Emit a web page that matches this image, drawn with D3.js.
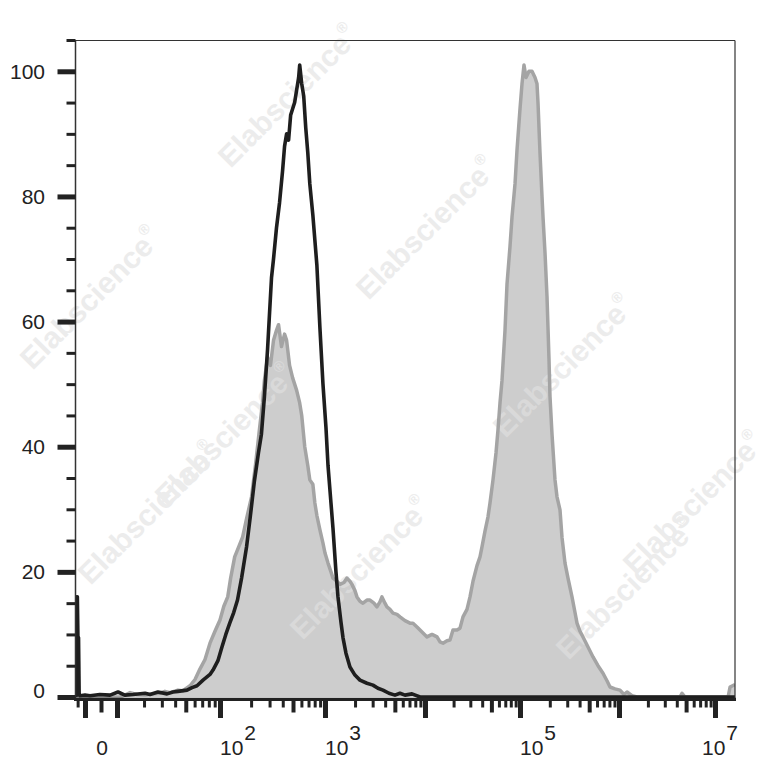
<!DOCTYPE html>
<html><head><meta charset="utf-8">
<script src="https://cdn.jsdelivr.net/npm/d3@7"></script>
<style>html,body{margin:0;padding:0;background:#fff;} svg{display:block;}</style>
</head><body>
<svg id="chart" width="779" height="780"></svg>
<script>
// ---------- data (fluorescence intensity, % of max) ----------
const controlX = [-23, -22, -20.5, -19.5, -18.5, -17.5, -16.2, -10, -5.6, -0.4, 4.3, 10.3, 12.4, 15.3, 20.5, 23, 27.5, 33.6, 38.2, 42.5, 51.3, 56.9, 63, 71.2, 81.9, 87, 96, 104.5, 114, 124.5, 136, 148, 162, 181, 197, 215, 235, 251, 268, 287, 299, 313, 327, 349, 373, 398, 416, 435, 454, 475, 496, 518, 541, 565, 578, 604, 631, 659, 689, 720, 769, 839, 896, 957, 1023, 1072, 1148, 1202, 1288, 1349, 1445, 1514, 1622, 1778, 1995, 2239, 2630, 3020, 3388, 3802, 4365, 5012, 5623, 6310, 7413, 8913, 16000000];
const controlY = [0, 16, 16, 9.5, 9.5, 0.3, 0.2, 0.3, 0.2, 0.4, 0.3, 0.8, 0.3, 0.4, 0.6, 0.4, 0.8, 0.5, 0.8, 0.9, 1.1, 1.5, 1.8, 2.7, 3.6, 4.3, 5.8, 8, 10, 11.8, 13.5, 15.5, 19, 24, 29, 34.5, 39, 42, 48, 55.5, 61, 67, 70, 75, 79, 84, 88, 90, 89, 93, 94, 95, 97, 99, 101, 98, 96, 91, 87, 82, 77, 69, 59, 50, 43, 37, 31, 27, 20, 16, 12, 9.5, 7, 4.8, 3.5, 2.7, 2.2, 1.9, 1.4, 1.1, 0.6, 0.3, 0.6, 0.3, 0.5, 0, 0];

const stainedX = [-23, 10.9, 12.4, 14.2, 16.9, 20.5, 24.1, 28.8, 32.1, 35.8, 42.5, 47.2, 54.6, 60.5, 67, 74.1, 81.9, 90.5, 100, 109, 119, 127, 139, 152, 166, 181, 202, 220, 240, 257, 268, 287, 306, 327, 349, 365, 389, 416, 435, 464, 496, 541, 578, 604, 645, 689, 720, 769, 803, 839, 896, 957, 1000, 1072, 1148, 1202, 1318, 1413, 1549, 1660, 1778, 1862, 1995, 2089, 2239, 2399, 2630, 2818, 3090, 3311, 3548, 3715, 3981, 4169, 4467, 4786, 5248, 5623, 6310, 7079, 7586, 8318, 9333, 10500, 11850, 13380, 14380, 15470, 17040, 18330, 19710, 21720, 23360, 25120, 27680, 29770, 32020, 35270, 37930, 39810, 42810, 46050, 48330, 51970, 55900, 58670, 61590, 64650, 69520, 72980, 78480, 82380, 88600, 93000, 100000, 104760, 109750, 114970, 123280, 132200, 141760, 148500, 152000, 159200, 166800, 170800, 178900, 187400, 196300, 200900, 210500, 225700, 236400, 253500, 265600, 284800, 305300, 335200, 359400, 376500, 403700, 432800, 486400, 546500, 613800, 689300, 756400, 811100, 911300, 1024000, 1127000, 1211000, 1366000, 1540000, 4319000, 4532000, 4870000, 13600000, 14250000, 16000000];
const stainedY = [0, 0, 0.3, 0.7, 0.4, 0.3, 0.5, 0.6, 0.9, 0.7, 1.1, 1.0, 1.8, 2.8, 4.5, 6, 8.6, 10.5, 12.3, 14.5, 16, 19, 22.4, 24, 25.6, 28.5, 32, 37, 42.7, 47, 50.6, 54.3, 53, 57, 58.6, 59.5, 56, 58, 57, 53, 51, 49, 47, 45, 40, 37, 34.7, 34, 31, 29, 26.7, 24.6, 23, 21.4, 20, 19, 18.5, 18, 18.3, 19, 18.5, 18, 17, 16, 15.3, 15, 15.5, 15.5, 15, 14.4, 15.2, 16, 15, 14.4, 14, 13.4, 13.2, 12.8, 12.2, 11.8, 11.8, 11.2, 10.4, 9.6, 10, 9.6, 8.8, 8.6, 9.0, 9.1, 10.7, 10.7, 11, 12.8, 14, 16, 18.5, 21, 22.4, 24, 26.5, 28.8, 31, 34.7, 39, 42.7, 47, 50.6, 58.6, 66, 72, 76.7, 82, 87.4, 94, 98, 101, 99, 100, 100, 99, 98, 95, 87, 80, 76.7, 71, 64, 54, 48, 42, 34.7, 32, 29.9, 25.5, 21.4, 19, 16, 13.5, 11.8, 10.5, 9.6, 8, 6.4, 5, 3.8, 2.6, 1.6, 1.3, 1.1, 0.4, 0.8, 0.2, 0, 0, 0.6, 0, 0, 1.6, 2];

// ---------- ticks ----------
const xMajorTicks = [-10, 10, 100, 1000, 10000, 100000, 1000000, 10000000];
const xMediumTicks = [0, 50, 500, 5000, 50000, 500000, 5000000];
const xMinorTicks = [-20, 20, 30, 40, 60, 70, 80, 90, 200, 300, 400, 600, 700, 800, 900, 2000, 3000, 4000, 6000, 7000, 8000, 9000, 20000, 30000, 40000, 60000, 70000, 80000, 90000, 200000, 300000, 400000, 600000, 700000, 800000, 900000, 2000000, 3000000, 4000000, 6000000, 7000000, 8000000, 9000000];
const xLabelValues = [0, 100, 1000, 100000, 10000000];
const xLabelBase = ["0", "10", "10", "10", "10"];
const xLabelExp = ["", "2", "3", "5", "7"];
const yMajorTicks = [0, 20, 40, 60, 80, 100];
const yMinorTicks = [5, 10, 15, 25, 30, 35, 45, 50, 55, 65, 70, 75, 85, 90, 95, 105];

// watermark centres
const wmX = [290, 428, 565, 695, 92, 227, 362, 628, 150];
const wmY = [98, 230, 368, 505, 300, 437, 570, 590, 515];

// ---------- scales ----------
const L = 76, R = 735, T = 40.5, B = 697;
const x = d3.scaleSymlog().constant(5)
  .domain([-23, -10, 0, 10, 100, 1000, 10000, 100000, 1000000, 10000000, 16000000])
  .range([76, 85, 101, 117, 220, 325, 425, 520, 619, 715, 735]);
const y = d3.scaleLinear().domain([0, 105]).range([B, 40]);

const svg = d3.select("#chart");
const FONT = "'Liberation Sans', Arial, sans-serif";
svg.append("rect").attr("width", 779).attr("height", 780).attr("fill", "#fff");

const defs = svg.append("defs");
defs.append("clipPath").attr("id", "plotClip").append("rect")
  .attr("x", L).attr("y", 40).attr("width", R - L).attr("height", B - 40 + 1);

const stained = stainedX.map((v, i) => [v, stainedY[i]]);
const control = controlX.map((v, i) => [v, controlY[i]]);
const area = d3.area().x(d => x(d[0])).y0(y(0)).y1(d => y(d[1]));
const line = d3.line().x(d => x(d[0])).y(d => y(d[1]));
defs.append("clipPath").attr("id", "areaClip").append("path").attr("d", area(stained));

function watermarks(g, color) {
  wmX.forEach((cx, i) => {
    const t = g.append("text")
      .attr("transform", `translate(${cx},${wmY[i]}) rotate(-45)`)
      .attr("text-anchor", "middle").attr("dominant-baseline", "middle")
      .attr("font-family", FONT).attr("font-weight", "bold").attr("font-size", 30)
      .attr("fill", color);
    t.append("tspan").text("Elabscience");
    t.append("tspan").attr("font-size", 15).attr("dy", -12).text("®");
  });
}
watermarks(svg.append("g"), "#ececec");

const plotG = svg.append("g").attr("clip-path", "url(#plotClip)");
plotG.append("path").attr("d", area(stained)).attr("fill", "#cdcdcd");
watermarks(plotG.append("g").attr("clip-path", "url(#areaClip)"), "#d9d9d9");
plotG.append("path").attr("d", line(stained)).attr("fill", "none")
  .attr("stroke", "#a4a4a4").attr("stroke-width", 3.5).attr("stroke-linejoin", "round");
plotG.append("path").attr("d", line(control)).attr("fill", "none")
  .attr("stroke", "#1e1e1e").attr("stroke-width", 3.6).attr("stroke-linejoin", "round");

// ---------- frame ----------
svg.append("line").attr("x1", L).attr("x2", R).attr("y1", T).attr("y2", T).attr("stroke", "#333").attr("stroke-width", 1);
svg.append("line").attr("x1", R).attr("x2", R).attr("y1", T).attr("y2", 700).attr("stroke", "#333").attr("stroke-width", 1.2);
svg.append("line").attr("x1", 75.5).attr("x2", 75.5).attr("y1", 40).attr("y2", 700).attr("stroke", "#333").attr("stroke-width", 1.5);
svg.append("line").attr("x1", 74).attr("x2", R + 1).attr("y1", 699.3).attr("y2", 699.3).attr("stroke", "#222").attr("stroke-width", 3.2);

// ---------- x axis ticks ----------
function xTicks(vals, size, w) {
  const g = svg.append("g").attr("transform", "translate(0,700)")
    .call(d3.axisBottom(x).tickValues(vals).tickSize(size).tickFormat(""));
  g.select(".domain").remove();
  g.selectAll(".tick line").attr("stroke", "#222").attr("stroke-width", w);
}
xTicks(xMinorTicks, 7.5, 3);
xTicks(xMediumTicks, 12.5, 4);
xTicks(xMajorTicks, 18, 5);

// x labels
xLabelValues.forEach((v, i) => {
  const px = x(v);
  if (xLabelExp[i] === "") {
    svg.append("text").attr("x", px + 1).attr("y", 755).attr("text-anchor", "middle")
      .attr("font-family", FONT).attr("font-size", 21).attr("fill", "#222").text(xLabelBase[i]);
  } else {
    const est = 36;
    const sx = Math.min(px, R + 3 - est);
    const t = svg.append("text").attr("x", sx).attr("y", 755)
      .attr("font-family", FONT).attr("font-size", 21).attr("fill", "#222");
    t.append("tspan").text(xLabelBase[i]);
    t.append("tspan").attr("dy", -15).attr("dx", 1).text(xLabelExp[i]);
  }
});

// ---------- y axis ticks ----------
function yTicks(vals, size, w) {
  const g = svg.append("g").attr("transform", "translate(75.5,0)")
    .call(d3.axisLeft(y).tickValues(vals).tickSize(size).tickFormat(""));
  g.select(".domain").remove();
  g.selectAll(".tick line").attr("stroke", "#222").attr("stroke-width", w);
}
yTicks(yMinorTicks, 9, 3);
yTicks(yMajorTicks, 18, 5);

yMajorTicks.forEach(v => {
  const py = Math.min(y(v), y(0) - 7);
  svg.append("text").attr("x", 45).attr("y", py).attr("dy", "0.36em")
    .attr("text-anchor", "end").attr("font-family", FONT).attr("font-size", 21)
    .attr("fill", "#222").text(v);
});
</script>
</body></html>
